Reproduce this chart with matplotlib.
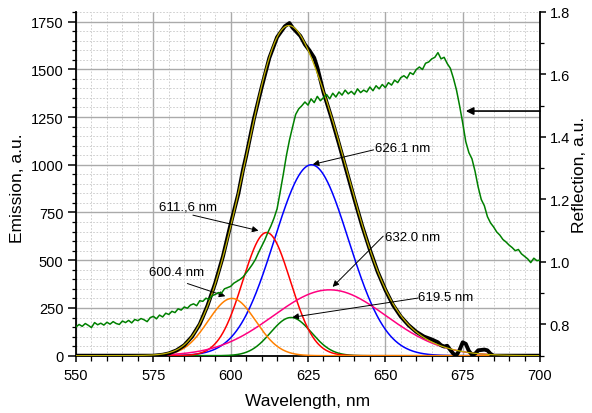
import numpy as np
import matplotlib
matplotlib.use("Agg")
import matplotlib.pyplot as plt
from matplotlib.ticker import MultipleLocator

plt.rcParams['font.family'] = ['Liberation Sans', 'DejaVu Sans']

# ---- Gaussian components (centre nm, amplitude, sigma nm) ----
comp_names = ["600.4 nm", "611.,6 nm", "626.1 nm", "619.5 nm", "632.0 nm"]
comp_center = [600.4, 611.6, 626.1, 619.5, 632.0]
comp_amp = [300, 645, 1000, 200, 345]
comp_sigma = [7.7, 7.7, 12.0, 6.6, 18.2]
comp_color = ["#ff8000", "#ff0000", "#0000ff", "#008000", "#ff0080"]

# ---- measured emission ----
em_wl = [550, 575, 578, 580, 582.5, 585, 587.5, 590, 592.5, 595,
         597.5, 600, 602.5, 604, 605, 607.5, 610, 612.5, 615, 617.5,
         619, 620, 622.5, 624, 625.5, 627, 628, 630, 632.5, 635,
         637.5, 640, 642.5, 645, 647.5, 650, 652.5, 655, 657.5, 660,
         662.5, 665, 667, 668, 669, 670, 671, 672, 673, 674,
         675, 676, 677, 678, 679, 680, 681, 682, 683, 684,
         685, 700]
em_val = [0, 0, 5, 12, 28, 55, 100, 165, 262, 380,
          520, 690, 850, 975, 1045, 1240, 1405, 1560, 1668, 1725,
          1742, 1718, 1675, 1630, 1598, 1560, 1510, 1380, 1250, 1110,
          965, 820, 680, 555, 440, 345, 265, 205, 160, 125,
          100, 85, 70, 55, 48, 52, 30, 10, 3, 30,
          70, 62, 25, 5, 10, 28, 30, 32, 28, 10,
          0, 0]

# ---- reflection (right axis), 550..700 nm step 1 ----
refl_wl = list(range(550, 701))
refl_val = [0.792, 0.800, 0.794, 0.803, 0.797, 0.790, 0.806, 0.799, 0.804, 0.798,
            0.807, 0.801, 0.809, 0.803, 0.800, 0.811, 0.806, 0.813, 0.805, 0.816,
            0.812, 0.819, 0.815, 0.809, 0.822, 0.826, 0.818, 0.830, 0.824, 0.836,
            0.832, 0.842, 0.838, 0.850, 0.846, 0.856, 0.852, 0.862, 0.866, 0.860,
            0.876, 0.874, 0.884, 0.880, 0.892, 0.896, 0.902, 0.900, 0.914, 0.918,
            0.922, 0.932, 0.938, 0.944, 0.952, 0.965, 0.978, 0.992, 1.008, 1.030,
            1.050, 1.070, 1.094, 1.115, 1.140, 1.170, 1.224, 1.280, 1.340, 1.390,
            1.432, 1.472, 1.490, 1.500, 1.512, 1.502, 1.522, 1.510, 1.530, 1.516,
            1.526, 1.536, 1.522, 1.540, 1.528, 1.544, 1.534, 1.550, 1.538, 1.546,
            1.536, 1.554, 1.542, 1.550, 1.544, 1.560, 1.548, 1.564, 1.554, 1.568,
            1.558, 1.574, 1.566, 1.582, 1.574, 1.590, 1.596, 1.588, 1.606, 1.600,
            1.616, 1.624, 1.616, 1.636, 1.640, 1.650, 1.655, 1.670, 1.650, 1.655,
            1.635, 1.620, 1.588, 1.550, 1.500, 1.445, 1.385, 1.350, 1.330, 1.290,
            1.240, 1.200, 1.180, 1.145, 1.125, 1.112, 1.096, 1.086, 1.072, 1.064,
            1.054, 1.046, 1.036, 1.040, 1.026, 1.018, 1.010, 0.998, 1.012, 1.004,
            1.006]

arrow_level = 1.483   # reflection level marked by the arrow

fig = plt.figure(figsize=(5.92, 4.14), dpi=100)
ax = fig.add_axes([0.1284, 0.1384, 0.7838, 0.8302])

x = np.linspace(550, 700, 1501)
comps = [a * np.exp(-(x - c) ** 2 / (2 * s * s)) for a, c, s in zip(comp_amp, comp_center, comp_sigma)]
fit = np.sum(comps, axis=0)

order = [2, 3, 1, 4, 0]
for i in order:
    ax.plot(x, comps[i], color=comp_color[i], lw=1.1, zorder=3)
ax.plot(em_wl, em_val, color='black', lw=2.8, zorder=4, solid_joinstyle='round')
ax.plot(x, fit, color='#c0b000', lw=0.9, zorder=5)

ax.set_xlim(550, 700)
ax.set_ylim(0, 1800)
ax.xaxis.set_major_locator(MultipleLocator(25))
ax.xaxis.set_minor_locator(MultipleLocator(5))
ax.yaxis.set_major_locator(MultipleLocator(250))
ax.yaxis.set_minor_locator(MultipleLocator(50))
ax.set_yticks(np.arange(0, 1751, 250))
ax.set_axisbelow(True)
ax.grid(which='major', color='#aaaaaa', lw=1.0, ls='-')
ax.grid(which='minor', color='#c8c8c8', lw=0.6, ls=(0, (2, 2)))

for sp in ['top', 'right']:
    ax.spines[sp].set_visible(False)
for sp in ['left', 'bottom']:
    ax.spines[sp].set_linewidth(1.3)
ax.tick_params(axis='y', which='major', length=6, width=1.1, labelsize=10.5, pad=3, direction='out')
ax.tick_params(axis='y', which='minor', length=3, width=0.9, direction='out')
ax.tick_params(axis='x', which='major', length=4, width=1.1, labelsize=10.5, pad=5, direction='out')
ax.tick_params(axis='x', which='minor', length=3.5, width=0.9, direction='out')

ax.set_xlabel("Wavelength, nm", fontsize=12.5)
ax.set_ylabel("Emission, a.u.", fontsize=12.5)
ax.xaxis.set_label_coords(0.5, -0.108)
ax.yaxis.set_label_coords(-0.109, 0.49)

# annotations: text pos (x, y), arrow tail (x, y), shrink at head (pts)
ann_text = [(573.6, 439), (576.9, 783), (646.8, 1086), (660.7, 307), (650.0, 622)]
ann_tail = [(586.0, 378), (587.8, 736), (646.2, 1078), (660.6, 302), (649.3, 626)]
ann_shrink = [5, 6, 1, 1, 3]
for i in range(5):
    tx, ty = ann_text[i]
    ax.text(tx, ty, comp_names[i], fontsize=9.5, ha='left', va='center', zorder=7)
    ax.annotate('', xy=(comp_center[i], comp_amp[i]), xytext=ann_tail[i],
                arrowprops=dict(arrowstyle='-|>', color='black', lw=0.7,
                                mutation_scale=9, shrinkA=0, shrinkB=ann_shrink[i]),
                zorder=7)

ax2 = ax.twinx()
ax2.plot(refl_wl, refl_val, color='#008000', lw=1.1, zorder=3)
ax2.set_ylim(0.7, 1.8)
ax2.yaxis.set_major_locator(MultipleLocator(0.2))
ax2.yaxis.set_minor_locator(MultipleLocator(0.1))
ax2.set_yticks([0.8, 1.0, 1.2, 1.4, 1.6, 1.8])
ax2.set_yticklabels(["0.8", "1.0", "1.2", "1.4", "1.6", "1.8"])
for sp in ['top', 'left', 'bottom']:
    ax2.spines[sp].set_visible(False)
ax2.spines['right'].set_linewidth(1.3)
ax2.tick_params(axis='y', which='major', length=4, width=1.1, labelsize=10.5, pad=3)
ax2.tick_params(axis='y', which='minor', length=3, width=0.9)
ax2.set_ylabel("Reflection, a.u.", fontsize=12.5)
ax2.yaxis.set_label_coords(1.068, 0.53)
ax2.annotate('', xy=(676.0, arrow_level), xytext=(700, arrow_level),
             arrowprops=dict(arrowstyle='-|>', color='black', lw=1.2,
                             mutation_scale=11, shrinkA=0, shrinkB=0))
ax.set_xlim(550, 700)

fig.savefig("out.png", dpi=100)
